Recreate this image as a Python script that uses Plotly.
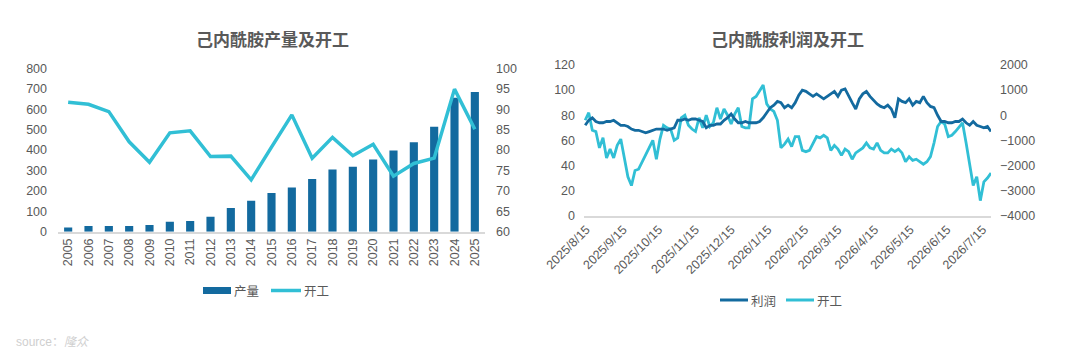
import plotly.graph_objects as go
import pandas as pd

# ---------------- data: left chart ----------------
years = [str(y) for y in range(2005, 2026)]
output = [21, 28, 28, 28, 33, 49, 52, 73, 116, 152, 189, 217, 258, 305, 318,
          353, 397, 438, 514, 656, 684]
oprate_year = [91.7, 91.2, 89.4, 82.0, 77.0, 84.2, 84.7, 78.4, 78.5, 72.7, 80.7,
               88.6, 78.0, 83.1, 78.6, 81.4, 73.6, 76.7, 78.0, 94.9, 85.1]

# ---------------- data: right chart ----------------
dates = pd.date_range("2025-08-14", periods=115, freq="3D")
profit = [
    -400, -200, -100, -250, -300, -300, -250, -250, -200, -300,
    -400, -400, -450, -550, -600, -600, -650, -700, -650, -600,
    -550, -550, -550, -600, -550, -500, -200, -200, -150, -200,
    -150, -150, -200, -250, -500, -400, -400, -350, -350, -200,
    -100, 50, -150, -300, -300, -250, -300, -300, -300, -250,
    -100, 100, 300, 400, 550, 500, 300, 400, 300, 500,
    800, 1000, 950, 850, 750, 850, 750, 650, 750, 850,
    950, 750, 1000, 1050, 750, 500, 250, 650, 850, 950,
    750, 600, 450, 350, 300, 400, 250, -100, 650, 550,
    500, 650, 400, 550, 500, 750, 500, 350, 300, 0,
    -250, -250, -300, -300, -250, -250, -150, -300, -400, -250,
    -400, -450, -500, -450, -650,
]
oprate_day = [
    76, 82, 68, 67, 54, 62, 46, 53, 46, 56,
    61, 45, 31, 24, 36, 37, 43, 49, 55, 60,
    45, 61, 72, 70, 69, 60, 62, 78, 80, 72,
    69, 67, 78, 70, 80, 71, 74, 86, 77, 85,
    80, 73, 81, 86, 71, 70, 70, 93, 95, 99,
    104, 89, 85, 83, 76, 54, 57, 61, 55, 63,
    63, 52, 51, 52, 58, 63, 62, 64, 62, 52,
    56, 53, 48, 53, 51, 45, 50, 52, 54, 58,
    54, 53, 58, 52, 50, 50, 53, 51, 53, 50,
    43, 47, 44, 45, 43, 41, 43, 47, 58, 71,
    75, 73, 63, 64, 67, 71, 74, 58, 40, 24,
    31, 12, 27, 30, 34,
]
month_ticks = ["2025-08-15", "2025-09-15", "2025-10-15", "2025-11-15", "2025-12-15",
               "2026-01-15", "2026-02-15", "2026-03-15", "2026-04-15", "2026-05-15",
               "2026-06-15", "2026-07-15"]
month_labels = ["2025/8/15", "2025/9/15", "2025/10/15", "2025/11/15", "2025/12/15",
                "2026/1/15", "2026/2/15", "2026/3/15", "2026/4/15", "2026/5/15",
                "2026/6/15", "2026/7/15"]

DARK = "#136a9f"
LIGHT = "#31bfd5"
GREY = "#595959"
FONT = "Liberation Sans, Noto Sans CJK SC, sans-serif"
CJK = "Noto Sans CJK SC, sans-serif"
W, H = 1080, 358

fig = go.Figure()
fig.add_trace(go.Bar(x=years, y=output, name="产量", marker=dict(color=DARK, line=dict(width=0)),
                     xaxis="x", yaxis="y", showlegend=False))
fig.add_trace(go.Scatter(x=years, y=oprate_year, name="开工", mode="lines",
                         line=dict(color=LIGHT, width=3.5), xaxis="x", yaxis="y2", showlegend=False))
fig.add_trace(go.Scatter(x=dates, y=profit, name="利润", mode="lines",
                         line=dict(color=DARK, width=2.8), xaxis="x2", yaxis="y4", showlegend=False))
fig.add_trace(go.Scatter(x=dates, y=oprate_day, name="开工", mode="lines",
                         line=dict(color=LIGHT, width=2.8), xaxis="x2", yaxis="y3", showlegend=False))

tickfont = dict(family=FONT, size=12.5, color=GREY)
axis_common = dict(showgrid=False, zeroline=False, tickfont=tickfont, ticks="", automargin=False)

fig.update_layout(
    width=W, height=H,
    margin=dict(l=0, r=0, t=0, b=0, pad=0, autoexpand=False),
    paper_bgcolor="white", plot_bgcolor="white",
    bargap=0.6,
    xaxis=dict(domain=[58 / W, 485 / W], type="category", anchor="y",
               showline=True, linecolor="#d9d9d9", linewidth=1.5,
               tickangle=-90, **axis_common),
    yaxis=dict(domain=[1 - 231.7 / H, 1 - 68.3 / H], range=[0, 800], dtick=100, anchor="x",
               showline=False, ticklabelstandoff=10, **axis_common),
    yaxis2=dict(range=[60, 100], dtick=5, overlaying="y", side="right", anchor="x",
                showline=False, ticklabelstandoff=10, **axis_common),
    xaxis2=dict(domain=[584 / W, 991 / W], type="date", anchor="y3",
                range=["2025-08-13", "2026-07-22"],
                tickvals=month_ticks, ticktext=month_labels, tickangle=-45,
                showline=True, linecolor="#d9d9d9", linewidth=1.5, **axis_common),
    yaxis3=dict(domain=[1 - 215.7 / H, 1 - 65 / H], range=[0, 120], dtick=20, anchor="x2",
                showline=False, ticklabelstandoff=8, **axis_common),
    yaxis4=dict(range=[-4000, 2000], dtick=1000, overlaying="y3", side="right", anchor="x2",
                showline=False, ticklabelstandoff=8, **axis_common),
)

# titles
fig.add_annotation(text="<b>己内酰胺产量及开工</b>", x=272 / W, y=1 - 38 / H, xref="paper", yref="paper",
                   showarrow=False, xanchor="center", yanchor="middle",
                   font=dict(family=CJK, size=17, color=GREY))
fig.add_annotation(text="<b>己内酰胺利润及开工</b>", x=787 / W, y=1 - 38 / H, xref="paper", yref="paper",
                   showarrow=False, xanchor="center", yanchor="middle",
                   font=dict(family=CJK, size=17, color=GREY))

# legends (manual)
def legend_text(txt, x, y):
    fig.add_annotation(text=txt, x=x / W, y=1 - y / H, xref="paper", yref="paper", showarrow=False,
                       xanchor="left", yanchor="middle", font=dict(family=CJK, size=12.5, color=GREY))

fig.add_shape(type="rect", x0=203 / W, x1=231 / W, y0=1 - 294 / H, y1=1 - 287 / H,
              xref="paper", yref="paper", fillcolor=DARK, line=dict(width=0))
legend_text("产量", 232, 290.5)
fig.add_shape(type="line", x0=271 / W, x1=301 / W, y0=1 - 290.5 / H, y1=1 - 290.5 / H,
              xref="paper", yref="paper", line=dict(color=LIGHT, width=3.5))
legend_text("开工", 302, 290.5)

fig.add_shape(type="line", x0=720 / W, x1=748 / W, y0=1 - 300 / H, y1=1 - 300 / H,
              xref="paper", yref="paper", line=dict(color=DARK, width=3))
legend_text("利润", 749, 300)
fig.add_shape(type="line", x0=786 / W, x1=814 / W, y0=1 - 300 / H, y1=1 - 300 / H,
              xref="paper", yref="paper", line=dict(color=LIGHT, width=3))
legend_text("开工", 815, 300)

# source
fig.add_annotation(text="source：<i>隆众</i>", x=14 / W, y=1 - 342 / H, xref="paper", yref="paper",
                   showarrow=False, xanchor="left", yanchor="middle",
                   font=dict(family="Liberation Sans, Noto Sans CJK SC", size=12, color="#cfcfcf"))

fig.write_html("out.html")
